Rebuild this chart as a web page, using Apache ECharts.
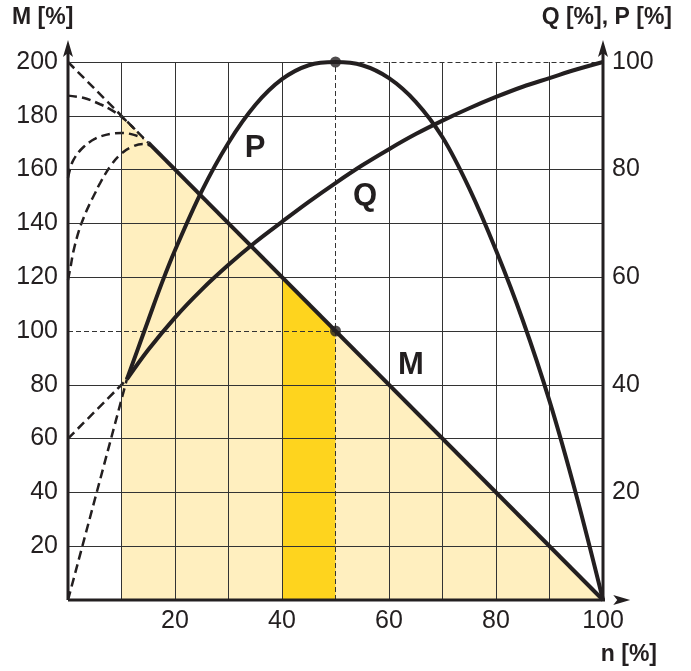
<!DOCTYPE html>
<html><head><meta charset="utf-8">
<script src="https://cdn.jsdelivr.net/npm/echarts@6/dist/echarts.min.js"></script>
<style>html,body{margin:0;padding:0;background:#fff}#c{width:691px;height:671px}</style>
</head><body><div id="c"></div>
<script>
// ---- data (n in %, M in % on left axis, P/Q in % on right axis) ----
const nGrid = [10, 20, 30, 40, 60, 70, 80, 90];          // vertical grid lines (50 is a dashed guide)
const mGrid = [20, 40, 60, 80, 120, 140, 160, 180];      // horizontal grid lines (100/200 partly dashed)

const mN   = [0, 15, 100];
const mVal = [200, 170, 0];

const pN   = [11, 13, 15, 17.5, 20, 25, 30, 35, 40, 45, 50, 55, 60, 65, 70, 75, 80, 85, 90, 95, 100];
const pVal = [41, 46.5, 52, 58.8, 65, 76, 85, 92, 96.8, 99.4, 100, 99.4, 97, 92.6, 86, 76.5, 65, 52, 37, 19.5, 0];
const pDashN = [0, 11];
const pDashVal = [0, 41];

const qN   = [11, 15, 20, 25, 30, 35, 40, 45, 50, 55, 60, 65, 70, 75, 80, 85, 90, 95, 100];
const qVal = [41, 46.5, 52.5, 57.7, 62.3, 66.5, 70.3, 74, 77.5, 80.8, 83.8, 86.6, 89.1, 91.4, 93.5, 95.4, 97, 98.6, 100];
const qDashN = [0, 11];
const qDashVal = [30, 41];

const startAN   = [0, 3, 6, 8, 10, 11, 12, 12.5];
const startAVal = [187.5, 186.6, 184.3, 182.3, 179.6, 177.9, 176, 175];
const startBN   = [0, 0.5, 1, 2, 3, 4, 5, 6, 8, 10, 11, 12, 13, 14.2];
const startBVal = [157, 161, 163.5, 166.5, 168.6, 170.2, 171.4, 172.3, 173.3, 173.6, 173.5, 173.1, 172.5, 171.6];
const startCN   = [0, 0.5, 1, 2, 3, 4, 5, 6, 8, 10, 12, 14, 15.6];
const startCVal = [119, 124, 129.5, 137, 142.5, 147, 151, 155, 161.5, 166, 168.5, 169.5, 168.8];

const lightFillN = [10, 100];
const lightFillM = [180, 0];
const darkFillN  = [40, 50];
const darkFillM  = [120, 100];

const refN = 50, refM = 100, topM = 200, maxN = 100;

// ---- helpers ----
const zip = (xs, ys) => xs.map((x, i) => [x, ys[i]]);
const INK = '#231f20';
const FONT = '"Liberation Sans", Arial, sans-serif';
const ARROW_UP = 'path://M5,0 L10,17 L5,13 L0,17 Z';
const ARROW_RIGHT = 'path://M17,5 L0,0 L4,5 L0,10 Z';

const gridLines = [];
nGrid.forEach(n => gridLines.push([{ coord: [n, 0] }, { coord: [n, topM] }]));
mGrid.forEach(m => gridLines.push([{ coord: [0, m] }, { coord: [maxN, m] }]));
gridLines.push([{ coord: [0, topM] }, { coord: [refN, topM] }]);
gridLines.push([{ coord: [refN, refM] }, { coord: [maxN, refM] }]);

const guideLines = [
  [{ coord: [refN, 0] }, { coord: [refN, topM] }],
  [{ coord: [0, refM] }, { coord: [refN, refM] }],
  [{ coord: [refN, topM] }, { coord: [maxN, topM] }]
];

const dashCurve = (data, yIdx) => ({
  type: 'line', data, yAxisIndex: yIdx || 0, smooth: 0.4, symbol: 'none', z: 4,
  lineStyle: { color: INK, width: 2.5, type: [9, 5] }, silent: true
});
const solidCurve = (data, yIdx, sm) => ({
  type: 'line', data, yAxisIndex: yIdx || 0, smooth: sm, symbol: 'none', z: 5,
  lineStyle: { color: INK, width: 4 }, silent: true
});
const axisArrow = (from, to, sym, size) => ({
  type: 'line', clip: false, z: 6, silent: true, showSymbol: true, showAllSymbol: true,
  data: [{ value: from, symbol: 'none' }, { value: to, symbol: sym, symbolSize: size, symbolKeepAspect: false }],
  lineStyle: { color: INK, width: 3 }, itemStyle: { color: INK }
});

const chart = echarts.init(document.getElementById('c'), null, { renderer: 'canvas' });
chart.setOption({
  animation: false,
  backgroundColor: '#fff',
  grid: { left: 68, right: 88, top: 62, bottom: 71 },
  xAxis: {
    type: 'value', min: 0, max: 100, interval: 10,
    axisLine: { show: false }, axisTick: { show: false }, splitLine: { show: false },
    axisLabel: { margin: 9, color: INK, fontSize: 25, fontFamily: FONT,
      formatter: v => (v > 0 && v % 20 === 0) ? String(v) : '' }
  },
  yAxis: [
    { type: 'value', min: 0, max: 200, interval: 20,
      axisLine: { show: false }, axisTick: { show: false }, splitLine: { show: false },
      axisLabel: { margin: 10, color: INK, fontSize: 25, fontFamily: FONT, formatter: v => v > 0 ? String(v) : '' } },
    { type: 'value', min: 0, max: 100, interval: 20, position: 'right',
      axisLine: { show: false }, axisTick: { show: false }, splitLine: { show: false },
      axisLabel: { margin: 9, color: INK, fontSize: 25, fontFamily: FONT, formatter: v => v > 0 ? String(v) : '' } }
  ],
  series: [
    { type: 'line', data: zip(lightFillN, lightFillM), symbol: 'none', z: 1, silent: true,
      lineStyle: { width: 0 }, areaStyle: { color: '#ffefbf', opacity: 1 } },
    { type: 'line', data: zip(darkFillN, darkFillM), symbol: 'none', z: 1, silent: true,
      lineStyle: { width: 0 }, areaStyle: { color: '#fed41e', opacity: 1 } },
    { type: 'line', data: [], z: 2, silent: true,
      markLine: { silent: true, symbol: ['none', 'none'], label: { show: false }, animation: false,
        lineStyle: { color: '#333', width: 1, type: 'solid' }, emphasis: { disabled: true }, data: gridLines } },
    { type: 'line', data: [], z: 3, silent: true,
      markLine: { silent: true, symbol: ['none', 'none'], label: { show: false }, animation: false,
        lineStyle: { color: '#333', width: 1, type: [5, 3] }, emphasis: { disabled: true }, data: guideLines } },
    dashCurve(zip(mN.slice(0, 2), mVal.slice(0, 2))),
    solidCurve(zip(mN.slice(1), mVal.slice(1)), 0, false),
    dashCurve(zip(pDashN, pDashVal), 1),
    solidCurve(zip(pN, pVal), 1, 0.35),
    dashCurve(zip(qDashN, qDashVal), 1),
    solidCurve(zip(qN, qVal), 1, 0.35),
    dashCurve(zip(startAN, startAVal)),
    dashCurve(zip(startBN, startBVal)),
    dashCurve(zip(startCN, startCVal)),
    { type: 'scatter', data: [[refN, refM]], symbolSize: 11, itemStyle: { color: INK }, z: 7, silent: true },
    { type: 'scatter', yAxisIndex: 1, data: [[refN, 100]], symbolSize: 11, itemStyle: { color: INK }, z: 7, silent: true },
    axisArrow([0, 0], [0, 205], ARROW_UP, [10, 17]),
    axisArrow([maxN, 0], [maxN, 205], ARROW_UP, [10, 17]),
    axisArrow([0, 0], [103.5, 0], ARROW_RIGHT, [17, 10])
  ],
  graphic: [
    { type: 'text', left: 12, top: 6, style: { text: 'M [%]', font: 'bold 23px ' + FONT, fill: INK } },
    { type: 'text', right: 19, top: 6, style: { text: 'Q [%], P [%]', font: 'bold 23px ' + FONT, fill: INK } },
    { type: 'text', right: 34, top: 643, style: { text: 'n [%]', font: 'bold 23px ' + FONT, fill: INK } },
    { type: 'text', x: 255, y: 148, style: { text: 'P', font: 'bold 31px ' + FONT, fill: INK, textAlign: 'center', textVerticalAlign: 'middle' } },
    { type: 'text', x: 365, y: 196, style: { text: 'Q', font: 'bold 31px ' + FONT, fill: INK, textAlign: 'center', textVerticalAlign: 'middle' } },
    { type: 'text', x: 411, y: 365, style: { text: 'M', font: 'bold 31px ' + FONT, fill: INK, textAlign: 'center', textVerticalAlign: 'middle' } }
  ]
});
</script></body></html>
